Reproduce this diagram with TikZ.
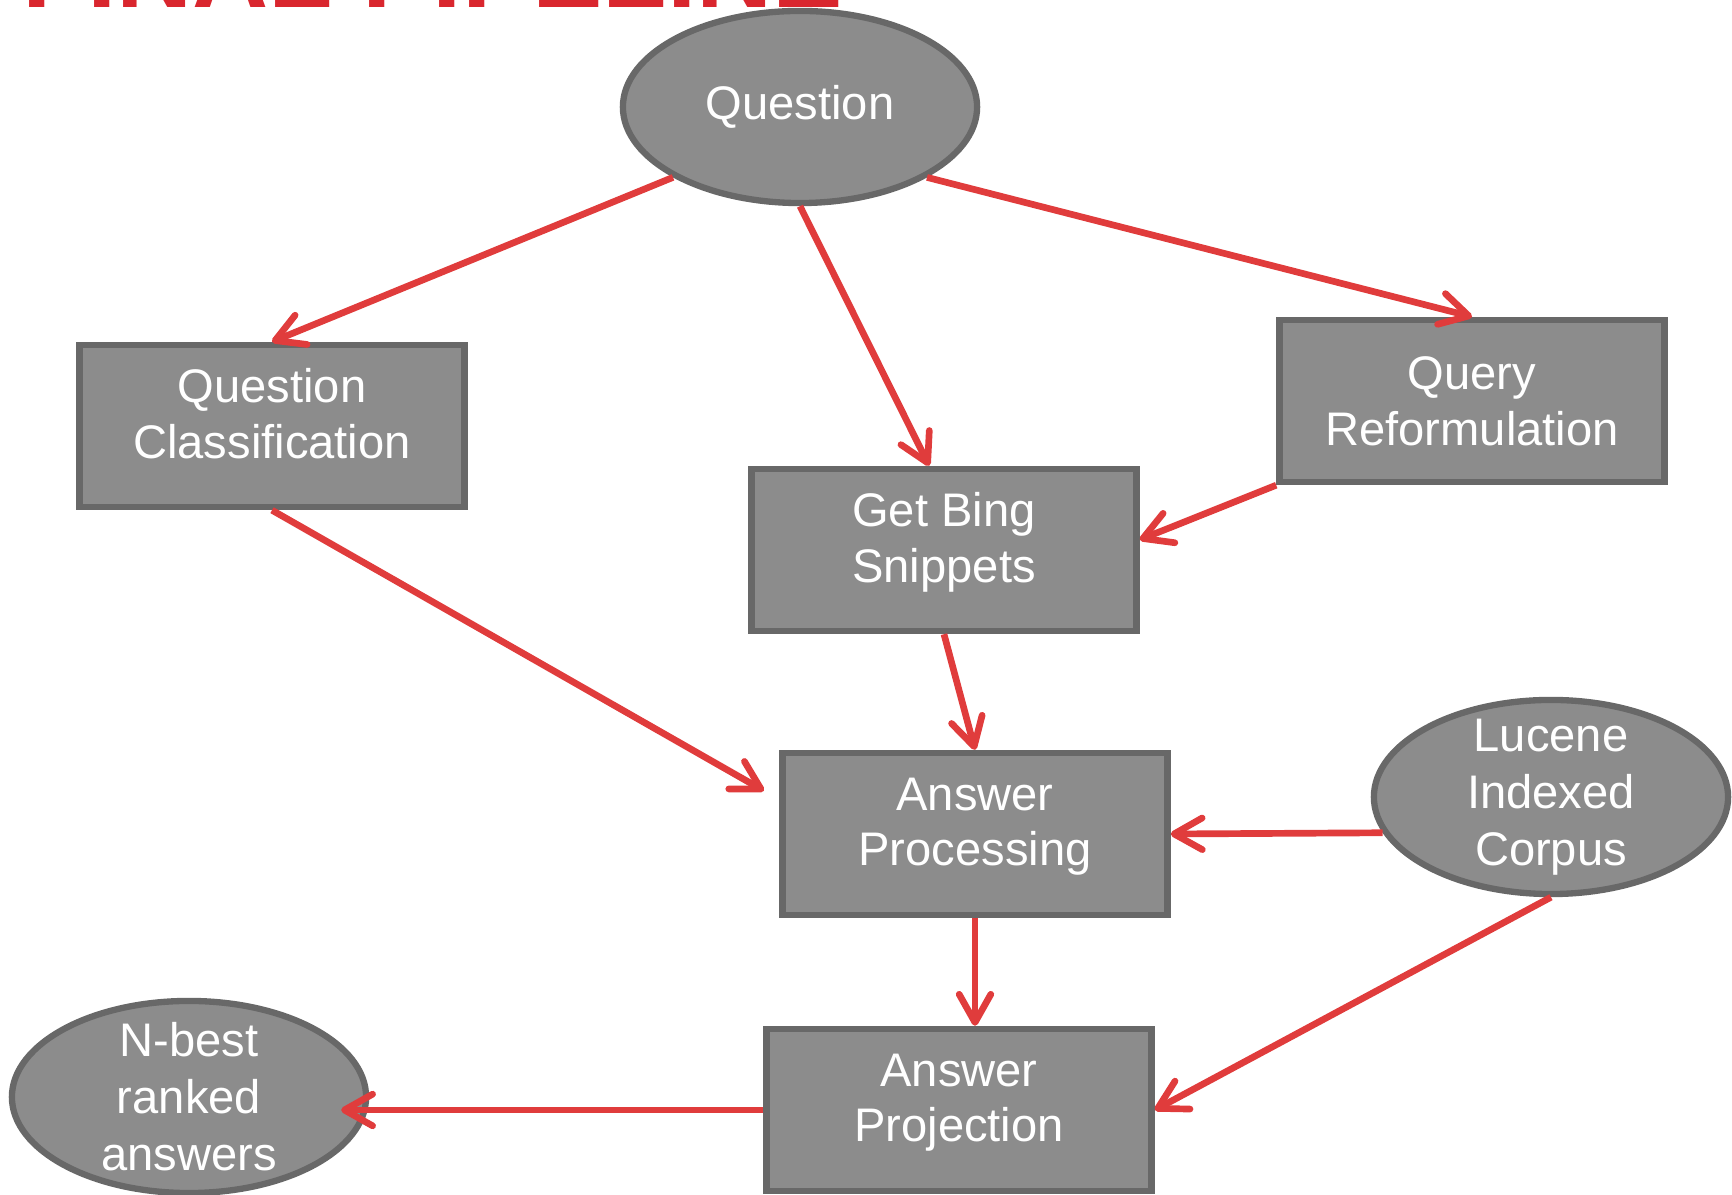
\documentclass[tikz,border=0pt]{standalone}
\usepackage{fontspec}
\setmainfont{Liberation Sans}
\usetikzlibrary{arrows.meta,positioning,calc,shapes.geometric}
\definecolor{boxgray}{HTML}{8C8C8C}
\definecolor{edgegray}{HTML}{686868}
\definecolor{arrred}{HTML}{E03C3C}
\definecolor{titlered}{HTML}{D9262E}

\begin{document}
\begin{tikzpicture}[x=0.01cm, y=-0.01cm,
    box/.style={draw=edgegray, fill=boxgray, line width=1.8pt, text=white,
      minimum width=3.85cm, minimum height=1.62cm, align=center, text depth=7pt,
      font=\fontsize{13.4}{15.8}\selectfont},
    oval/.style={box, ellipse, minimum width=3.54cm, minimum height=1.92cm,
      inner xsep=2pt, inner ysep=-12pt, text depth={},
      font=\fontsize{13.4}{16.2}\selectfont},
    flow/.style={draw=arrred, line width=1.9pt,
      -{Straight Barb[length=8pt,width=9pt,round]}}]
  \useasboundingbox (0,0) rectangle (1732,1195);
  % title, cut off at the top
  \begin{scope}
    \clip (0,0) rectangle (1732,12);
    \node[anchor=base west, inner sep=0, text=titlered,
      font=\fontsize{30}{30}\selectfont\bfseries] (title) at (22,8) {FINAL PIPELINE};
  \end{scope}
  % stages
  \node[oval] (q) at (800,107) {Question};
  \node[box] (qc) at (272,426) {Question\\Classification};
  \node[box] (gbs) at (944,550) {Get Bing\\Snippets};
  \node[box, text depth=0pt] (qr) at (1472,401) {Query\\Reformulation};
  \node[box] (ap) at (975,834) {Answer\\Processing};
  \node[oval, minimum height=1.94cm] (lic) at (1551,797) {Lucene\\Indexed\\Corpus};
  \node[box] (apj) at (959,1110) {Answer\\Projection};
  \node[oval] (nb) at (189,1097) {N-best\\ranked\\answers};
  % flow
  \draw[flow] (q.-151) -- (qc.north);
  \draw[flow] (q.south) -- (gbs.100);
  \draw[flow] (q.-29) -- (qr.north);
  \draw[flow] (qr.south west) -- (gbs.3);
  \draw[flow, shorten >=5pt] (qc.south) -- (ap.170);
  \draw[flow] (gbs.south) -- (ap.north);
  \draw[flow] (lic.192) -- (ap.east);
  \draw[flow] (lic.south) -- (apj.east);
  \draw[flow] (ap.south) -- (ap.south |- apj.north);
  \draw[flow, shorten >=-8pt] (apj.west) -- (apj.west -| nb.east);
\end{tikzpicture}
\end{document}
